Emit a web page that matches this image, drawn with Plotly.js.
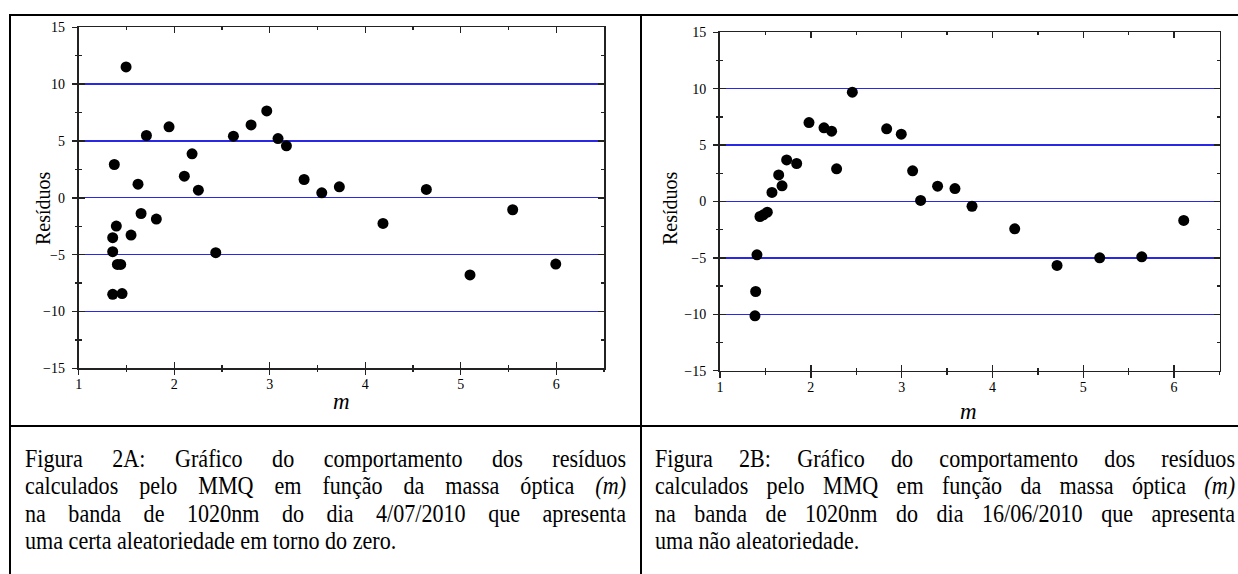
<!DOCTYPE html>
<html>
<head>
<meta charset="utf-8">
<script src="https://cdn.plot.ly/plotly-3.0.1.min.js"></script>
<style>
  html, body { margin: 0; padding: 0; background: #fff; }
  #wrap { position: relative; width: 1238px; height: 574px; overflow: hidden; }
  #chart { position: absolute; left: 0; top: 0; width: 1238px; height: 574px; }
  .cap { position: absolute; font-family: "Liberation Serif", "Times New Roman", serif; font-size: 26px; line-height: 27.3px; color: #000; }
  .cap div { white-space: nowrap; transform-origin: 0 0; }
  .cap div.j { text-align: justify; text-align-last: justify; white-space: normal; }
</style>
</head>
<body>
<div id="wrap">
  <div id="chart"></div>
  <div class="cap" id="capA" style="left:25px; top:445px;"></div>
  <div class="cap" id="capB" style="left:655px; top:445px;"></div>
</div>
<script>
// ---- Data ----
// Figure 2A: residuals vs optical mass m (4/07/2010)
const xA = [1.496, 1.373, 1.709, 1.946, 1.621, 1.653, 1.813, 1.548, 1.394, 1.356, 1.356,
            1.405, 1.440, 1.356, 1.454, 2.106, 2.187, 2.253, 2.435, 2.620, 2.805, 2.969,
            3.087, 3.175, 3.360, 3.545, 3.729, 4.186, 4.640, 5.097, 5.544, 5.995];
const yA = [11.51, 2.93, 5.48, 6.24, 1.20, -1.38, -1.87, -3.28, -2.49, -3.51, -4.74,
            -5.86, -5.86, -8.49, -8.43, 1.90, 3.87, 0.67, -4.83, 5.42, 6.41, 7.64,
            5.21, 4.57, 1.61, 0.44, 0.97, -2.25, 0.74, -6.79, -1.05, -5.83];
// Figure 2B: residuals vs optical mass m (16/06/2010)
const xB = [1.385, 1.393, 1.407, 1.440, 1.477, 1.521, 1.572, 1.646, 1.683, 1.734, 1.844,
            1.980, 2.145, 2.229, 2.284, 2.457, 2.835, 2.996, 3.121, 3.209, 3.396, 3.587,
            3.775, 4.245, 4.711, 5.181, 5.644, 6.106];
const yB = [-10.13, -7.98, -4.73, -1.33, -1.18, -0.95, 0.80, 2.36, 1.39, 3.69, 3.37,
            7.00, 6.53, 6.23, 2.90, 9.69, 6.44, 5.97, 2.72, 0.09, 1.36, 1.15,
            -0.42, -2.42, -5.67, -4.99, -4.90, -1.68];

const xRange = [1, 6.5];
const yRange = [-15, 15];
const xTitle = 'm';
const yTitle = 'Resíduos';

const captionA = [
  'Figura 2A: Gráfico do comportamento dos resíduos',
  'calculados pelo MMQ em função da massa óptica <i>(m)</i>',
  'na banda de 1020nm do dia 4/07/2010 que apresenta',
  'uma certa aleatoriedade em torno do zero.'
];
const captionB = [
  'Figura 2B: Gráfico do comportamento dos resíduos',
  'calculados pelo MMQ em função da massa óptica <i>(m)</i>',
  'na banda de 1020nm do dia 16/06/2010 que apresenta',
  'uma não aleatoriedade.'
];

// ---- Layout helpers ----
const W = 1238, H = 574;
const FONT = 'Liberation Serif, Times New Roman, serif';
const AX = '#222';
const GRID = 'rgb(40,40,230)';
const px = v => v / W;
const py = v => 1 - v / H;

// shared settings; any zero line that gets drawn uses the grid style
const common = { tickwidth: 1.4, tickcolor: AX, fixedrange: true,
                 zerolinecolor: GRID, zerolinewidth: 1.3 };

function mainX(dom, anchor) {
  return Object.assign({ domain: dom, range: xRange, anchor: anchor, dtick: 1, tick0: 1,
    showline: true, linecolor: AX, linewidth: 1.6, mirror: 'ticks',
    ticks: 'inside', ticklen: 6, zeroline: false,
    minor: { ticks: 'inside', ticklen: 3, dtick: 0.5, tick0: 1, tickwidth: 1.4, tickcolor: AX },
    showticklabels: false, showgrid: false }, common);
}
function overX(over, anchor) {
  return Object.assign({ overlaying: over, anchor: anchor, range: xRange, dtick: 1, tick0: 1, side: 'bottom',
    showline: false, ticks: 'outside', ticklen: 6, zeroline: false,
    minor: { ticks: 'outside', ticklen: 3, dtick: 0.5, tick0: 1, tickwidth: 1.4, tickcolor: AX },
    showgrid: false, ticklabelstandoff: -3,
    tickfont: { family: FONT, size: 14, color: '#000' } }, common);
}
function mainY(dom, anchor) {
  return Object.assign({ domain: dom, range: yRange, anchor: anchor, dtick: 5, tick0: 0,
    showline: true, linecolor: AX, linewidth: 1.6, mirror: 'ticks',
    ticks: 'inside', ticklen: 6, zeroline: true,
    minor: { ticks: 'inside', ticklen: 3, dtick: 2.5, tick0: 0, tickwidth: 1.4, tickcolor: AX },
    showticklabels: false, showgrid: true, gridcolor: GRID, gridwidth: 1.3 }, common);
}
function overY(over, anchor) {
  return Object.assign({ overlaying: over, anchor: anchor, range: yRange, dtick: 5, tick0: 0, side: 'left',
    showline: false, ticks: 'outside', ticklen: 6, zeroline: false,
    minor: { ticks: 'outside', ticklen: 3, dtick: 2.5, tick0: 0, tickwidth: 1.4, tickcolor: AX },
    showgrid: false, ticklabelstandoff: 4,
    tickfont: { family: FONT, size: 14, color: '#000' } }, common);
}

const marker = { color: '#000', size: 11 };
const data = [
  { type: 'scatter', mode: 'markers', x: xA, y: yA, xaxis: 'x', yaxis: 'y', marker: marker, hoverinfo: 'skip' },
  { type: 'scatter', mode: 'markers', x: xB, y: yB, xaxis: 'x2', yaxis: 'y2', marker: marker, hoverinfo: 'skip' },
  // empty traces that only register the overlay axes (outer tick halves + labels)
  { type: 'scatter', mode: 'markers', x: [], y: [], xaxis: 'x3', yaxis: 'y3', hoverinfo: 'skip' },
  { type: 'scatter', mode: 'markers', x: [], y: [], xaxis: 'x4', yaxis: 'y4', hoverinfo: 'skip' }
];

function hline(y, x0, x1) {
  return { type: 'line', xref: 'paper', yref: 'paper', x0: px(x0), x1: px(x1), y0: py(y), y1: py(y),
           line: { color: '#000', width: 2 } };
}
function vline(x, y0, y1) {
  return { type: 'line', xref: 'paper', yref: 'paper', x0: px(x), x1: px(x), y0: py(y0), y1: py(y1),
           line: { color: '#000', width: 2 } };
}
function ann(text, x, y, size, angle) {
  return { text: text, xref: 'paper', yref: 'paper', x: px(x), y: py(y), showarrow: false,
           xanchor: 'center', yanchor: 'middle', textangle: angle || 0,
           font: { family: FONT, size: size, color: '#000' } };
}

const layout = {
  width: W, height: H,
  margin: { l: 0, r: 0, t: 0, b: 0, pad: 0 },
  paper_bgcolor: '#fff', plot_bgcolor: 'rgba(0,0,0,0)',
  showlegend: false,
  xaxis: mainX([px(78.7), px(604)], 'y'),
  yaxis: mainY([py(368.3), py(27.3)], 'x'),
  xaxis3: overX('x', 'y3'),
  yaxis3: overY('y', 'x3'),
  xaxis2: mainX([px(720), px(1219.5)], 'y2'),
  yaxis2: mainY([py(370.7), py(32.3)], 'x2'),
  xaxis4: overX('x2', 'y4'),
  yaxis4: overY('y2', 'x4'),
  shapes: [
    hline(15, 9, W), vline(10, 14, H), vline(641, 14, H), hline(426, 9, W)
  ],
  annotations: [
    ann(yTitle, 43, 208, 20, -90),
    ann('<i>' + xTitle + '</i>', 341, 401, 23),
    ann(yTitle, 670, 208, 20, -90),
    ann('<i>' + xTitle + '</i>', 968, 411, 23)
  ]
};

Plotly.newPlot('chart', data, layout, { staticPlot: true, displayModeBar: false });

// captions: condensed serif text, each line justified to the column width
const SX = 0.85;
function fillCaption(id, lines, width) {
  const el = document.getElementById(id);
  lines.forEach((t, i) => {
    const d = document.createElement('div');
    if (i < lines.length - 1) d.className = 'j';
    d.style.width = (width / SX) + 'px';
    d.style.transform = 'scaleX(' + SX + ')';
    d.innerHTML = t;
    el.appendChild(d);
  });
}
fillCaption('capA', captionA, 601);
fillCaption('capB', captionB, 580);
</script>
</body>
</html>
